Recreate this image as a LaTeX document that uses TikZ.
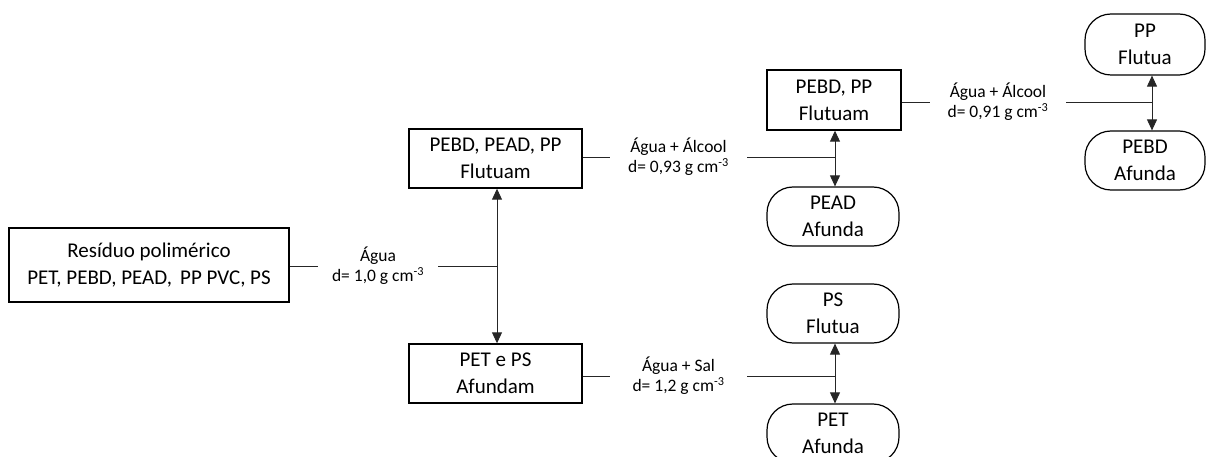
\documentclass[tikz,border=0pt]{standalone}
\usepackage{fontspec}
\setmainfont{Carlito}
\usetikzlibrary{arrows.meta}
\begin{document}
\begin{tikzpicture}[x=1pt,y=-1pt,
  boxtext/.style={font=\fontsize{21}{27}\selectfont, align=center, inner sep=0pt},
  sqbox/.style={boxtext, draw=black, line width=1.4pt, rectangle},
  rdbox/.style={boxtext, draw=black, line width=1.2pt, rectangle, rounded corners=26pt},
  lbl/.style={font=\fontsize{17.5}{20}\selectfont, align=center, inner sep=0pt, minimum height=30pt},
  conn/.style={line width=0.9pt, black!85},
  arr/.style={conn, {Triangle[length=11pt,width=10pt]}-{Triangle[length=11pt,width=10pt]}}
]
\useasboundingbox (0,0) rectangle (1208,457);
% boxes
\node[sqbox, minimum width=280pt, minimum height=74pt] (res) at (149,265) {Resíduo polimérico\\PET, PEBD, PEAD,\, PP PVC, PS};
\node[sqbox, minimum width=173pt, minimum height=59pt] (f1) at (495.5,158.5) {PEBD, PEAD, PP\\Flutuam};
\node[sqbox, minimum width=173pt, minimum height=59pt] (a1) at (495.5,373.5) {PET e PS\\Afundam};
\node[sqbox, minimum width=134pt, minimum height=60pt] (f2) at (834,100) {PEBD, PP\\Flutuam};
\node[rdbox, minimum width=132pt, minimum height=59pt] (pead) at (833,216.5) {PEAD\\Afunda};
\node[rdbox, minimum width=132pt, minimum height=59pt] (ps) at (833,313.5) {PS\\Flutua};
\node[rdbox, minimum width=132pt, minimum height=59pt] (pet) at (833,433.5) {PET\\Afunda};
\node[rdbox, minimum width=120pt, minimum height=61pt] (pp) at (1145,44.5) {PP\\Flutua};
\node[rdbox, minimum width=120pt, minimum height=59pt] (pebd) at (1145,160.5) {PEBD\\Afunda};
% labels
\node[lbl, minimum width=120pt] (l1) at (378,266) {Água\\d= 1,0 g cm\textsuperscript{-3}};
\node[lbl, minimum width=137pt] (l2) at (678.5,157) {Água + Álcool\\d= 0,93 g cm\textsuperscript{-3}};
\node[lbl, minimum width=137pt] (l3) at (678.5,376) {Água + Sal\\d= 1,2 g cm\textsuperscript{-3}};
\node[lbl, minimum width=136pt] (l4) at (998,102) {Água + Álcool\\d= 0,91 g cm\textsuperscript{-3}};
% junctions
\coordinate (j1) at (497,266);
\coordinate (j2) at (835,157);
\coordinate (j3) at (835,376);
\coordinate (j4) at (1152,102);
% connectors
\draw[conn] (res.east |- l1) -- (l1.west);
\draw[conn] (l1.east) -- (j1);
\draw[arr] (j1 |- f1.south) -- (j1 |- a1.north);
\draw[conn] (f1.east |- l2) -- (l2.west);
\draw[conn] (l2.east) -- (j2);
\draw[arr] (j2 |- f2.south) -- (j2 |- pead.north);
\draw[conn] (a1.east |- l3) -- (l3.west);
\draw[conn] (l3.east) -- (j3);
\draw[arr] (j3 |- ps.south) -- (j3 |- pet.north);
\draw[conn] (f2.east |- l4) -- (l4.west);
\draw[conn] (l4.east) -- (j4);
\draw[arr] (j4 |- pp.south) -- (j4 |- pebd.north);
\end{tikzpicture}
\end{document}
